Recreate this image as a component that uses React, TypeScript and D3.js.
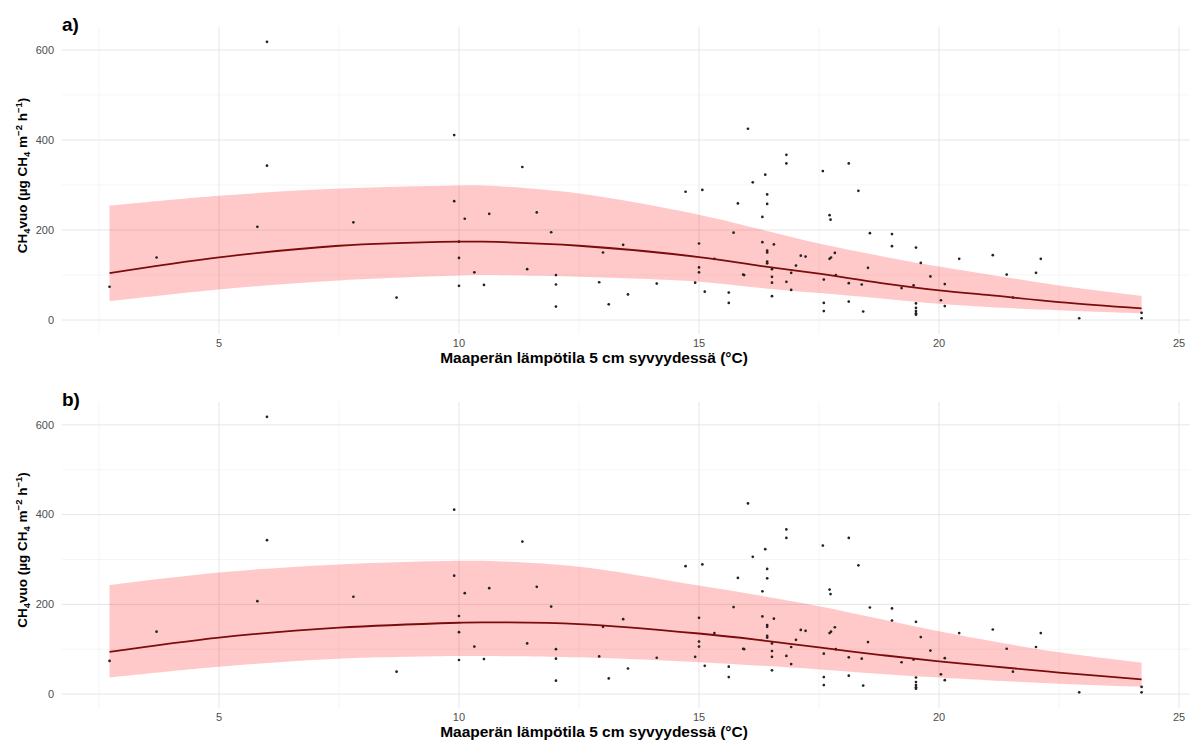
import React from 'react';
import * as d3 from 'd3';

// Observations: soil temperature at 5 cm (°C) and CH4 flux (µg CH4 m-2 h-1)
const temperature = [
  2.72, 3.7, 5.8, 6.0, 6.0, 7.8, 8.7, 9.9, 9.9, 10.0,
  10.0, 10.0, 10.12, 10.32, 10.52, 10.63, 11.32, 11.42, 11.62, 11.92,
  12.02, 12.02, 12.02, 12.92, 13.0, 13.12, 13.42, 13.52, 14.12, 14.72,
  14.92, 15.0, 15.0, 15.0, 15.07, 15.12, 15.32, 15.62, 15.62, 15.72,
  15.81, 15.92, 15.94, 16.02, 16.12, 16.32, 16.32, 16.38, 16.42, 16.42,
  16.42, 16.42, 16.42, 16.42, 16.52, 16.52, 16.52, 16.52, 16.56, 16.82,
  16.82, 16.82, 16.92, 16.92, 17.02, 17.12, 17.22, 17.58, 17.6, 17.6,
  17.6, 17.72, 17.74, 17.72, 17.75, 17.83, 17.85, 18.12, 18.12, 18.12,
  18.32, 18.39, 18.42, 18.52, 18.56, 19.02, 19.02, 19.22, 19.47, 19.52,
  19.52, 19.52, 19.52, 19.52, 19.52, 19.62, 19.82, 20.04, 20.12, 20.12,
  20.42, 21.12, 21.41, 21.54, 22.02, 22.12, 22.92, 24.22, 24.22,
];
const methaneFlux = [
  74, 139, 207, 618, 343, 217, 50, 411, 264, 174,
  138, 76, 225, 106, 78, 236, 340, 113, 239, 195,
  100, 79, 30, 84, 150, 35, 167, 57, 81, 285,
  83, 170, 117, 106, 289, 63, 136, 61, 38, 194,
  259, 101, 100, 425, 306, 229, 173, 323, 279, 258,
  154, 150, 130, 126, 113, 96, 83, 53, 168, 367,
  348, 85, 105, 67, 121, 143, 141, 331, 90, 38,
  20, 233, 223, 136, 139, 149, 100, 348, 82, 41,
  287, 79, 19, 116, 193, 191, 164, 71, 77, 161,
  37, 27, 20, 15, 12, 127, 97, 44, 80, 31,
  136, 144, 101, 50, 105, 136, 4, 16, 4,
];

// Fitted curves with confidence ribbons
const fitTemperature = [2.72, 5, 7.5, 10, 10.5, 12.5, 15, 16.3, 17.5, 18.8, 20, 21, 22.5, 24.22];
const fitA = [104, 139, 165, 174, 174, 165, 140, 120, 103, 82, 66, 56, 40, 26];
const upperA = [254, 276, 292, 299, 299, 281, 234, 201, 170, 142, 119, 102, 77, 54];
const lowerA = [42, 68, 88, 99, 100, 96, 85, 71, 60, 48, 36, 29, 22, 15];
const fitB = [94, 126, 148, 159, 160, 156, 135, 120, 104, 87, 73, 63, 48, 33];
const upperB = [243, 271, 289, 297, 297, 284, 242, 219, 196, 167, 140, 120, 93, 70];
const lowerB = [37, 61, 79, 85, 85, 82, 71, 63, 55, 45, 37, 31, 23, 16];

const xTicks = [5, 10, 15, 20, 25];
const xMinorTicks = [2.5, 7.5, 12.5, 17.5, 22.5];
const yTicks = [0, 200, 400, 600];
const yMinorTicks = [100, 300, 500];
const panelLabels = ['a)', 'b)'];
const xTitle = 'Maaperän lämpötila 5 cm syvyydessä (°C)';

const W = 1190;
const H = 742;
const FONT = '"Liberation Sans", Arial, Helvetica, sans-serif';

const xScale = d3.scaleLinear().domain([1.73, 25.27]).range([62, 1192]);

type PanelProps = {
  top: number;
  bottom: number;
  label: string;
  fit: number[];
  upper: number[];
  lower: number[];
};

function Panel({ top, bottom, label, fit, upper, lower }: PanelProps) {
  const y = d3.scaleLinear().domain([-31, 651]).range([bottom, top]);
  const [x0, x1] = xScale.range();
  const idx = fitTemperature.map((_, i) => i);
  const area = d3
    .area<number>()
    .x((i) => xScale(fitTemperature[i]))
    .y0((i) => y(lower[i]))
    .y1((i) => y(upper[i]))
    .curve(d3.curveCatmullRom.alpha(0.5));
  const line = d3
    .line<number>()
    .x((i) => xScale(fitTemperature[i]))
    .y((i) => y(fit[i]))
    .curve(d3.curveCatmullRom.alpha(0.5));
  const midY = (top + bottom) / 2 - 5;
  return (
    <g>
      {/* grid */}
      {yMinorTicks.map((t) => (
        <line key={'ym' + t} x1={x0} x2={x1} y1={y(t)} y2={y(t)} stroke="#EEEEEE" strokeWidth={0.6} />
      ))}
      {xMinorTicks.map((t) => (
        <line key={'xm' + t} x1={xScale(t)} x2={xScale(t)} y1={top} y2={bottom} stroke="#EEEEEE" strokeWidth={0.6} />
      ))}
      {yTicks.map((t) => (
        <line key={'y' + t} x1={x0} x2={x1} y1={y(t)} y2={y(t)} stroke="#E6E6E6" strokeWidth={1} />
      ))}
      {xTicks.map((t) => (
        <line key={'x' + t} x1={xScale(t)} x2={xScale(t)} y1={top} y2={bottom} stroke="#E6E6E6" strokeWidth={1} />
      ))}
      {/* ribbon */}
      <path d={area(idx) || ''} fill="rgb(255,0,0)" fillOpacity={0.21} />
      {/* points */}
      {temperature.map((t, i) => (
        <circle key={'p' + i} cx={xScale(t)} cy={y(methaneFlux[i])} r={1.35} fill="#222" />
      ))}
      {/* fitted line */}
      <path d={line(idx) || ''} fill="none" stroke="#7A0C0C" strokeWidth={1.8} />
      {/* y tick labels */}
      {yTicks.map((t) => (
        <text key={'yl' + t} x={54} y={y(t)} dy="0.35em" textAnchor="end" fontSize={11} fill="#4D4D4D" fontFamily={FONT}>
          {t}
        </text>
      ))}
      {/* x tick labels */}
      {xTicks.map((t) => (
        <text key={'xl' + t} x={xScale(t)} y={bottom + 13} textAnchor="middle" fontSize={11} fill="#4D4D4D" fontFamily={FONT}>
          {t}
        </text>
      ))}
      {/* x title */}
      <text x={594} y={bottom + 29} textAnchor="middle" fontSize={15.5} fontWeight="bold" fill="#000" fontFamily={FONT}>
        {xTitle}
      </text>
      {/* y title */}
      <text
        transform={`translate(27,${midY}) rotate(-90)`}
        textAnchor="middle"
        fontSize={13.5}
        fontWeight="bold"
        fill="#000"
        fontFamily={FONT}
      >
        <tspan>CH</tspan>
        <tspan fontSize={9.5} dy={3}>4</tspan>
        <tspan dy={-3}>vuo (µg CH</tspan>
        <tspan fontSize={9.5} dy={3}>4</tspan>
        <tspan dy={-3}> m</tspan>
        <tspan fontSize={9.5} dy={-5}>−2</tspan>
        <tspan dy={5}> h</tspan>
        <tspan fontSize={9.5} dy={-5}>−1</tspan>
        <tspan dy={5}>)</tspan>
      </text>
      {/* panel label */}
      <text x={62} y={top + 4} fontSize={19} fontWeight="bold" fill="#000" fontFamily={FONT}>
        {label}
      </text>
    </g>
  );
}

export default function App() {
  return (
    <svg
      width={W}
      height={H}
      viewBox={`0 0 ${W} ${H}`}
      style={{ position: 'absolute', left: 0, top: 0, background: '#fff' }}
    >
      <rect x={0} y={0} width={W} height={H} fill="#fff" />
      <Panel top={27} bottom={334} label={panelLabels[0]} fit={fitA} upper={upperA} lower={lowerA} />
      <Panel top={402} bottom={708} label={panelLabels[1]} fit={fitB} upper={upperB} lower={lowerB} />
    </svg>
  );
}
